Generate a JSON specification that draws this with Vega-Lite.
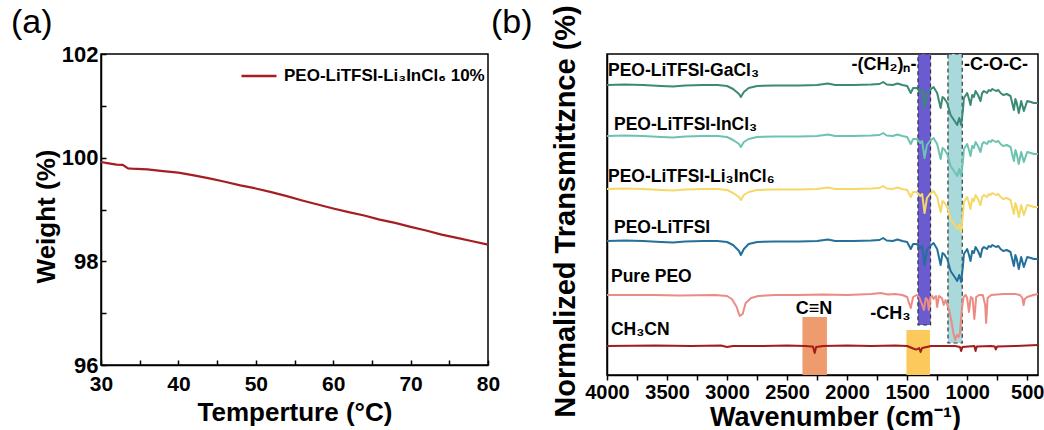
{
"$schema":"https://vega.github.io/schema/vega-lite/v6.json",
"padding":{"left":10,"top":3,"right":0,"bottom":0},
"background":"white",
"config":{"view":{"stroke":"black","strokeWidth":1.5},"font":"Liberation Sans","axis":{"grid":false,"domainColor":"black","domainWidth":1.5,"tickColor":"black","tickWidth":1.5,"labelColor":"black","titleColor":"black","labelFont":"Liberation Sans","titleFont":"Liberation Sans","labelFontWeight":"bold","titleFontWeight":"bold"}},
"datasets":{
"tga":[{"s":"PEO-LiTFSI-Li₃InCl₆ 10%","t":30,"w":99.916},{"s":"PEO-LiTFSI-Li₃InCl₆ 10%","t":31,"w":99.89},{"s":"PEO-LiTFSI-Li₃InCl₆ 10%","t":32,"w":99.865},{"s":"PEO-LiTFSI-Li₃InCl₆ 10%","t":32.8,"w":99.86},{"s":"PEO-LiTFSI-Li₃InCl₆ 10%","t":33.5,"w":99.794},{"s":"PEO-LiTFSI-Li₃InCl₆ 10%","t":34,"w":99.787},{"s":"PEO-LiTFSI-Li₃InCl₆ 10%","t":36,"w":99.774},{"s":"PEO-LiTFSI-Li₃InCl₆ 10%","t":38,"w":99.742},{"s":"PEO-LiTFSI-Li₃InCl₆ 10%","t":40,"w":99.71},{"s":"PEO-LiTFSI-Li₃InCl₆ 10%","t":42,"w":99.658},{"s":"PEO-LiTFSI-Li₃InCl₆ 10%","t":44,"w":99.6},{"s":"PEO-LiTFSI-Li₃InCl₆ 10%","t":46,"w":99.535},{"s":"PEO-LiTFSI-Li₃InCl₆ 10%","t":48,"w":99.465},{"s":"PEO-LiTFSI-Li₃InCl₆ 10%","t":50,"w":99.406},{"s":"PEO-LiTFSI-Li₃InCl₆ 10%","t":52,"w":99.335},{"s":"PEO-LiTFSI-Li₃InCl₆ 10%","t":54,"w":99.258},{"s":"PEO-LiTFSI-Li₃InCl₆ 10%","t":56,"w":99.174},{"s":"PEO-LiTFSI-Li₃InCl₆ 10%","t":58,"w":99.097},{"s":"PEO-LiTFSI-Li₃InCl₆ 10%","t":60,"w":99.019},{"s":"PEO-LiTFSI-Li₃InCl₆ 10%","t":62,"w":98.948},{"s":"PEO-LiTFSI-Li₃InCl₆ 10%","t":64,"w":98.884},{"s":"PEO-LiTFSI-Li₃InCl₆ 10%","t":66,"w":98.806},{"s":"PEO-LiTFSI-Li₃InCl₆ 10%","t":68,"w":98.742},{"s":"PEO-LiTFSI-Li₃InCl₆ 10%","t":70,"w":98.665},{"s":"PEO-LiTFSI-Li₃InCl₆ 10%","t":72,"w":98.594},{"s":"PEO-LiTFSI-Li₃InCl₆ 10%","t":74,"w":98.516},{"s":"PEO-LiTFSI-Li₃InCl₆ 10%","t":76,"w":98.452},{"s":"PEO-LiTFSI-Li₃InCl₆ 10%","t":78,"w":98.387},{"s":"PEO-LiTFSI-Li₃InCl₆ 10%","t":80,"w":98.323}],
"tags":[{"tag":"(a)","t":18.372,"w":102.926},{"tag":"(b)","t":80.388,"w":102.926}],
"bands":[{"b":"CH2","w":1410,"w2":1305,"v":50,"v2":321,"d":true},{"b":"COC","w":1160,"w2":1041,"v":32,"v2":321,"d":true},{"b":"CN","w":2372,"w2":2168,"v":0,"v2":58,"d":false},{"b":"CH3","w":1506,"w2":1310,"v":0,"v2":45,"d":false}],
"notes":[{"k":"trace","t":"PEO-LiTFSI-GaCl₃","w":3992,"v":304.5},{"k":"trace","t":"PEO-LiTFSI-InCl₃","w":3942,"v":250},{"k":"trace","t":"PEO-LiTFSI-Li₃InCl₆","w":3992,"v":198.5},{"k":"trace","t":"PEO-LiTFSI","w":3942,"v":147},{"k":"trace","t":"Pure PEO","w":3967,"v":98.5},{"k":"trace","t":"CH₃CN","w":3967,"v":45},{"k":"right","t":"-(CH₂)ₙ-","w":1422,"v":310},{"k":"left","t":"-C-O-C-","w":1026,"v":310},{"k":"center","t":"C≡N","w":2276,"v":66},{"k":"center","t":"-CH₃","w":1640,"v":61}],
"ftir":[
{"s":"GaCl3","w":4000,"v":290},{"s":"GaCl3","w":3850,"v":290.5},{"s":"GaCl3","w":3700,"v":290},{"s":"GaCl3","w":3550,"v":289},{"s":"GaCl3","w":3450,"v":288.5},{"s":"GaCl3","w":3350,"v":289.5},{"s":"GaCl3","w":3200,"v":290},{"s":"GaCl3","w":3080,"v":290},{"s":"GaCl3","w":3000,"v":289},{"s":"GaCl3","w":2950,"v":286},{"s":"GaCl3","w":2900,"v":281},{"s":"GaCl3","w":2885,"v":278},{"s":"GaCl3","w":2860,"v":283},{"s":"GaCl3","w":2820,"v":287},{"s":"GaCl3","w":2750,"v":289},{"s":"GaCl3","w":2600,"v":289.5},{"s":"GaCl3","w":2400,"v":289.5},{"s":"GaCl3","w":2250,"v":290},{"s":"GaCl3","w":2160,"v":291.5},{"s":"GaCl3","w":2100,"v":290},{"s":"GaCl3","w":1950,"v":290},{"s":"GaCl3","w":1800,"v":290.5},{"s":"GaCl3","w":1730,"v":291},{"s":"GaCl3","w":1700,"v":293},{"s":"GaCl3","w":1670,"v":290.5},{"s":"GaCl3","w":1620,"v":290},{"s":"GaCl3","w":1580,"v":291.5},{"s":"GaCl3","w":1540,"v":290},{"s":"GaCl3","w":1500,"v":289},{"s":"GaCl3","w":1470,"v":282},{"s":"GaCl3","w":1450,"v":287},{"s":"GaCl3","w":1420,"v":287},{"s":"GaCl3","w":1390,"v":283},{"s":"GaCl3","w":1375,"v":285},{"s":"GaCl3","w":1355,"v":268},{"s":"GaCl3","w":1335,"v":281},{"s":"GaCl3","w":1310,"v":285},{"s":"GaCl3","w":1280,"v":288},{"s":"GaCl3","w":1250,"v":282},{"s":"GaCl3","w":1221,"v":267},{"s":"GaCl3","w":1205,"v":278},{"s":"GaCl3","w":1193,"v":277},{"s":"GaCl3","w":1166,"v":272},{"s":"GaCl3","w":1138,"v":260},{"s":"GaCl3","w":1110,"v":255},{"s":"GaCl3","w":1083,"v":250},{"s":"GaCl3","w":1066,"v":257},{"s":"GaCl3","w":1050,"v":250},{"s":"GaCl3","w":1035,"v":265},{"s":"GaCl3","w":1027,"v":277},{"s":"GaCl3","w":1000,"v":282},{"s":"GaCl3","w":985,"v":276},{"s":"GaCl3","w":972,"v":270},{"s":"GaCl3","w":958,"v":280},{"s":"GaCl3","w":944,"v":278},{"s":"GaCl3","w":930,"v":284},{"s":"GaCl3","w":910,"v":280},{"s":"GaCl3","w":889,"v":274},{"s":"GaCl3","w":875,"v":282},{"s":"GaCl3","w":860,"v":284},{"s":"GaCl3","w":835,"v":282},{"s":"GaCl3","w":820,"v":285},{"s":"GaCl3","w":805,"v":284},{"s":"GaCl3","w":790,"v":286},{"s":"GaCl3","w":760,"v":284},{"s":"GaCl3","w":740,"v":285},{"s":"GaCl3","w":722,"v":282},{"s":"GaCl3","w":700,"v":280},{"s":"GaCl3","w":670,"v":281},{"s":"GaCl3","w":639,"v":279},{"s":"GaCl3","w":611,"v":265},{"s":"GaCl3","w":598,"v":276},{"s":"GaCl3","w":589,"v":273},{"s":"GaCl3","w":570,"v":262},{"s":"GaCl3","w":550,"v":274},{"s":"GaCl3","w":528,"v":264},{"s":"GaCl3","w":500,"v":274},{"s":"GaCl3","w":470,"v":273},{"s":"GaCl3","w":445,"v":272},{"s":"GaCl3","w":410,"v":272},
{"s":"InCl3","w":4000,"v":239},{"s":"InCl3","w":3850,"v":239.5},{"s":"InCl3","w":3700,"v":239},{"s":"InCl3","w":3550,"v":238},{"s":"InCl3","w":3450,"v":237.5},{"s":"InCl3","w":3350,"v":238.5},{"s":"InCl3","w":3200,"v":239},{"s":"InCl3","w":3080,"v":239},{"s":"InCl3","w":3000,"v":238},{"s":"InCl3","w":2950,"v":235},{"s":"InCl3","w":2900,"v":231},{"s":"InCl3","w":2885,"v":228},{"s":"InCl3","w":2860,"v":233},{"s":"InCl3","w":2820,"v":236},{"s":"InCl3","w":2750,"v":238},{"s":"InCl3","w":2600,"v":238.5},{"s":"InCl3","w":2400,"v":238.5},{"s":"InCl3","w":2250,"v":239},{"s":"InCl3","w":2160,"v":240.5},{"s":"InCl3","w":2100,"v":239},{"s":"InCl3","w":1950,"v":239},{"s":"InCl3","w":1800,"v":239.5},{"s":"InCl3","w":1730,"v":240},{"s":"InCl3","w":1700,"v":242},{"s":"InCl3","w":1670,"v":239.5},{"s":"InCl3","w":1620,"v":239},{"s":"InCl3","w":1580,"v":240.5},{"s":"InCl3","w":1540,"v":239},{"s":"InCl3","w":1500,"v":238},{"s":"InCl3","w":1470,"v":231},{"s":"InCl3","w":1450,"v":236},{"s":"InCl3","w":1420,"v":236},{"s":"InCl3","w":1390,"v":232},{"s":"InCl3","w":1375,"v":234},{"s":"InCl3","w":1355,"v":217},{"s":"InCl3","w":1335,"v":230},{"s":"InCl3","w":1310,"v":234},{"s":"InCl3","w":1280,"v":237},{"s":"InCl3","w":1250,"v":231},{"s":"InCl3","w":1221,"v":216},{"s":"InCl3","w":1205,"v":227},{"s":"InCl3","w":1193,"v":226},{"s":"InCl3","w":1166,"v":221},{"s":"InCl3","w":1138,"v":209},{"s":"InCl3","w":1110,"v":204},{"s":"InCl3","w":1083,"v":199},{"s":"InCl3","w":1066,"v":206},{"s":"InCl3","w":1050,"v":199},{"s":"InCl3","w":1035,"v":214},{"s":"InCl3","w":1027,"v":226},{"s":"InCl3","w":1000,"v":231},{"s":"InCl3","w":985,"v":225},{"s":"InCl3","w":972,"v":219},{"s":"InCl3","w":958,"v":229},{"s":"InCl3","w":944,"v":227},{"s":"InCl3","w":930,"v":233},{"s":"InCl3","w":910,"v":229},{"s":"InCl3","w":889,"v":223},{"s":"InCl3","w":875,"v":231},{"s":"InCl3","w":860,"v":233},{"s":"InCl3","w":835,"v":231},{"s":"InCl3","w":820,"v":234},{"s":"InCl3","w":805,"v":233},{"s":"InCl3","w":790,"v":235},{"s":"InCl3","w":760,"v":233},{"s":"InCl3","w":740,"v":234},{"s":"InCl3","w":722,"v":231},{"s":"InCl3","w":700,"v":229},{"s":"InCl3","w":670,"v":230},{"s":"InCl3","w":639,"v":228},{"s":"InCl3","w":611,"v":214},{"s":"InCl3","w":598,"v":225},{"s":"InCl3","w":589,"v":222},{"s":"InCl3","w":570,"v":211},{"s":"InCl3","w":550,"v":223},{"s":"InCl3","w":528,"v":213},{"s":"InCl3","w":500,"v":223},{"s":"InCl3","w":470,"v":222},{"s":"InCl3","w":445,"v":221},{"s":"InCl3","w":410,"v":221},
{"s":"Li3InCl6","w":4000,"v":186},{"s":"Li3InCl6","w":3850,"v":186.5},{"s":"Li3InCl6","w":3700,"v":186},{"s":"Li3InCl6","w":3550,"v":185},{"s":"Li3InCl6","w":3450,"v":184.5},{"s":"Li3InCl6","w":3350,"v":185.5},{"s":"Li3InCl6","w":3200,"v":186},{"s":"Li3InCl6","w":3080,"v":186},{"s":"Li3InCl6","w":3000,"v":185},{"s":"Li3InCl6","w":2950,"v":182},{"s":"Li3InCl6","w":2900,"v":178},{"s":"Li3InCl6","w":2885,"v":175},{"s":"Li3InCl6","w":2860,"v":180},{"s":"Li3InCl6","w":2820,"v":183},{"s":"Li3InCl6","w":2750,"v":185},{"s":"Li3InCl6","w":2600,"v":185.5},{"s":"Li3InCl6","w":2400,"v":185.5},{"s":"Li3InCl6","w":2250,"v":186},{"s":"Li3InCl6","w":2160,"v":187.5},{"s":"Li3InCl6","w":2100,"v":186},{"s":"Li3InCl6","w":1950,"v":186},{"s":"Li3InCl6","w":1800,"v":186.5},{"s":"Li3InCl6","w":1730,"v":187},{"s":"Li3InCl6","w":1700,"v":189},{"s":"Li3InCl6","w":1670,"v":186.5},{"s":"Li3InCl6","w":1620,"v":186},{"s":"Li3InCl6","w":1580,"v":187.5},{"s":"Li3InCl6","w":1540,"v":186},{"s":"Li3InCl6","w":1500,"v":185},{"s":"Li3InCl6","w":1470,"v":178},{"s":"Li3InCl6","w":1450,"v":183},{"s":"Li3InCl6","w":1420,"v":183},{"s":"Li3InCl6","w":1390,"v":179},{"s":"Li3InCl6","w":1375,"v":181},{"s":"Li3InCl6","w":1355,"v":162},{"s":"Li3InCl6","w":1335,"v":177},{"s":"Li3InCl6","w":1310,"v":181},{"s":"Li3InCl6","w":1280,"v":184},{"s":"Li3InCl6","w":1250,"v":178},{"s":"Li3InCl6","w":1221,"v":163},{"s":"Li3InCl6","w":1205,"v":174},{"s":"Li3InCl6","w":1193,"v":173},{"s":"Li3InCl6","w":1166,"v":168},{"s":"Li3InCl6","w":1138,"v":156},{"s":"Li3InCl6","w":1110,"v":151},{"s":"Li3InCl6","w":1083,"v":146},{"s":"Li3InCl6","w":1066,"v":150},{"s":"Li3InCl6","w":1050,"v":143},{"s":"Li3InCl6","w":1035,"v":161},{"s":"Li3InCl6","w":1027,"v":173},{"s":"Li3InCl6","w":1000,"v":178},{"s":"Li3InCl6","w":985,"v":172},{"s":"Li3InCl6","w":972,"v":166},{"s":"Li3InCl6","w":958,"v":176},{"s":"Li3InCl6","w":944,"v":174},{"s":"Li3InCl6","w":930,"v":180},{"s":"Li3InCl6","w":910,"v":176},{"s":"Li3InCl6","w":889,"v":170},{"s":"Li3InCl6","w":875,"v":178},{"s":"Li3InCl6","w":860,"v":180},{"s":"Li3InCl6","w":835,"v":178},{"s":"Li3InCl6","w":820,"v":181},{"s":"Li3InCl6","w":805,"v":180},{"s":"Li3InCl6","w":790,"v":182},{"s":"Li3InCl6","w":760,"v":180},{"s":"Li3InCl6","w":740,"v":181},{"s":"Li3InCl6","w":722,"v":178},{"s":"Li3InCl6","w":700,"v":176},{"s":"Li3InCl6","w":670,"v":177},{"s":"Li3InCl6","w":639,"v":175},{"s":"Li3InCl6","w":611,"v":161},{"s":"Li3InCl6","w":598,"v":172},{"s":"Li3InCl6","w":589,"v":169},{"s":"Li3InCl6","w":570,"v":158},{"s":"Li3InCl6","w":550,"v":170},{"s":"Li3InCl6","w":528,"v":160},{"s":"Li3InCl6","w":500,"v":170},{"s":"Li3InCl6","w":470,"v":169},{"s":"Li3InCl6","w":445,"v":168},{"s":"Li3InCl6","w":410,"v":168},
{"s":"LiTFSI","w":4000,"v":134},{"s":"LiTFSI","w":3850,"v":134.5},{"s":"LiTFSI","w":3700,"v":134},{"s":"LiTFSI","w":3550,"v":133},{"s":"LiTFSI","w":3450,"v":132.5},{"s":"LiTFSI","w":3350,"v":133.5},{"s":"LiTFSI","w":3200,"v":134},{"s":"LiTFSI","w":3080,"v":134},{"s":"LiTFSI","w":3000,"v":133},{"s":"LiTFSI","w":2950,"v":130},{"s":"LiTFSI","w":2900,"v":124},{"s":"LiTFSI","w":2885,"v":120},{"s":"LiTFSI","w":2860,"v":126},{"s":"LiTFSI","w":2820,"v":131},{"s":"LiTFSI","w":2750,"v":133},{"s":"LiTFSI","w":2600,"v":133.5},{"s":"LiTFSI","w":2400,"v":133.5},{"s":"LiTFSI","w":2250,"v":134},{"s":"LiTFSI","w":2160,"v":135.5},{"s":"LiTFSI","w":2100,"v":134},{"s":"LiTFSI","w":1950,"v":134},{"s":"LiTFSI","w":1800,"v":134.5},{"s":"LiTFSI","w":1730,"v":135},{"s":"LiTFSI","w":1700,"v":137},{"s":"LiTFSI","w":1670,"v":134.5},{"s":"LiTFSI","w":1620,"v":134},{"s":"LiTFSI","w":1580,"v":135.5},{"s":"LiTFSI","w":1540,"v":134},{"s":"LiTFSI","w":1500,"v":133},{"s":"LiTFSI","w":1470,"v":126},{"s":"LiTFSI","w":1450,"v":131},{"s":"LiTFSI","w":1420,"v":131},{"s":"LiTFSI","w":1390,"v":127},{"s":"LiTFSI","w":1375,"v":129},{"s":"LiTFSI","w":1355,"v":110},{"s":"LiTFSI","w":1335,"v":125},{"s":"LiTFSI","w":1310,"v":129},{"s":"LiTFSI","w":1280,"v":132},{"s":"LiTFSI","w":1250,"v":126},{"s":"LiTFSI","w":1221,"v":110},{"s":"LiTFSI","w":1205,"v":122},{"s":"LiTFSI","w":1193,"v":121},{"s":"LiTFSI","w":1166,"v":116},{"s":"LiTFSI","w":1138,"v":104},{"s":"LiTFSI","w":1110,"v":99},{"s":"LiTFSI","w":1083,"v":94},{"s":"LiTFSI","w":1066,"v":100},{"s":"LiTFSI","w":1050,"v":93},{"s":"LiTFSI","w":1035,"v":109},{"s":"LiTFSI","w":1027,"v":121},{"s":"LiTFSI","w":1000,"v":126},{"s":"LiTFSI","w":985,"v":120},{"s":"LiTFSI","w":972,"v":114},{"s":"LiTFSI","w":958,"v":124},{"s":"LiTFSI","w":944,"v":122},{"s":"LiTFSI","w":930,"v":128},{"s":"LiTFSI","w":910,"v":124},{"s":"LiTFSI","w":889,"v":118},{"s":"LiTFSI","w":875,"v":126},{"s":"LiTFSI","w":860,"v":128},{"s":"LiTFSI","w":835,"v":126},{"s":"LiTFSI","w":820,"v":129},{"s":"LiTFSI","w":805,"v":128},{"s":"LiTFSI","w":790,"v":130},{"s":"LiTFSI","w":760,"v":128},{"s":"LiTFSI","w":740,"v":129},{"s":"LiTFSI","w":722,"v":126},{"s":"LiTFSI","w":700,"v":124},{"s":"LiTFSI","w":670,"v":125},{"s":"LiTFSI","w":639,"v":123},{"s":"LiTFSI","w":611,"v":109},{"s":"LiTFSI","w":598,"v":120},{"s":"LiTFSI","w":589,"v":117},{"s":"LiTFSI","w":570,"v":106},{"s":"LiTFSI","w":550,"v":118},{"s":"LiTFSI","w":528,"v":108},{"s":"LiTFSI","w":500,"v":118},{"s":"LiTFSI","w":470,"v":117},{"s":"LiTFSI","w":445,"v":116},{"s":"LiTFSI","w":410,"v":116},
{"s":"PEO","w":4000,"v":80},{"s":"PEO","w":3600,"v":80},{"s":"PEO","w":3400,"v":79.5},{"s":"PEO","w":3100,"v":80},{"s":"PEO","w":3000,"v":79},{"s":"PEO","w":2960,"v":76},{"s":"PEO","w":2920,"v":68},{"s":"PEO","w":2895,"v":59},{"s":"PEO","w":2870,"v":61},{"s":"PEO","w":2845,"v":72},{"s":"PEO","w":2800,"v":77},{"s":"PEO","w":2740,"v":79},{"s":"PEO","w":2600,"v":80},{"s":"PEO","w":2400,"v":80},{"s":"PEO","w":2200,"v":80.5},{"s":"PEO","w":2000,"v":80},{"s":"PEO","w":1800,"v":81},{"s":"PEO","w":1720,"v":82},{"s":"PEO","w":1660,"v":80.5},{"s":"PEO","w":1600,"v":81},{"s":"PEO","w":1540,"v":80},{"s":"PEO","w":1500,"v":78},{"s":"PEO","w":1470,"v":67},{"s":"PEO","w":1450,"v":78},{"s":"PEO","w":1420,"v":80},{"s":"PEO","w":1400,"v":78},{"s":"PEO","w":1380,"v":72},{"s":"PEO","w":1360,"v":65},{"s":"PEO","w":1345,"v":77},{"s":"PEO","w":1330,"v":75},{"s":"PEO","w":1320,"v":65},{"s":"PEO","w":1305,"v":78},{"s":"PEO","w":1290,"v":79},{"s":"PEO","w":1280,"v":76},{"s":"PEO","w":1260,"v":79},{"s":"PEO","w":1250,"v":68},{"s":"PEO","w":1235,"v":79},{"s":"PEO","w":1210,"v":77},{"s":"PEO","w":1195,"v":70},{"s":"PEO","w":1180,"v":75},{"s":"PEO","w":1150,"v":65},{"s":"PEO","w":1130,"v":53},{"s":"PEO","w":1115,"v":42},{"s":"PEO","w":1100,"v":35},{"s":"PEO","w":1085,"v":40},{"s":"PEO","w":1070,"v":38},{"s":"PEO","w":1060,"v":42},{"s":"PEO","w":1045,"v":65},{"s":"PEO","w":1030,"v":78},{"s":"PEO","w":1013,"v":80},{"s":"PEO","w":1000,"v":77},{"s":"PEO","w":985,"v":63},{"s":"PEO","w":970,"v":78},{"s":"PEO","w":955,"v":77},{"s":"PEO","w":940,"v":56},{"s":"PEO","w":925,"v":78},{"s":"PEO","w":900,"v":80},{"s":"PEO","w":870,"v":80},{"s":"PEO","w":850,"v":70},{"s":"PEO","w":842,"v":52},{"s":"PEO","w":830,"v":77},{"s":"PEO","w":800,"v":80},{"s":"PEO","w":700,"v":81},{"s":"PEO","w":600,"v":81},{"s":"PEO","w":560,"v":80},{"s":"PEO","w":540,"v":77},{"s":"PEO","w":530,"v":70},{"s":"PEO","w":520,"v":76},{"s":"PEO","w":500,"v":78},{"s":"PEO","w":450,"v":80},{"s":"PEO","w":410,"v":81},
{"s":"CH3CN","w":4000,"v":29},{"s":"CH3CN","w":3600,"v":29.5},{"s":"CH3CN","w":3300,"v":29},{"s":"CH3CN","w":3050,"v":29.5},{"s":"CH3CN","w":3000,"v":28},{"s":"CH3CN","w":2950,"v":29},{"s":"CH3CN","w":2700,"v":29},{"s":"CH3CN","w":2500,"v":29.5},{"s":"CH3CN","w":2350,"v":29},{"s":"CH3CN","w":2300,"v":28.5},{"s":"CH3CN","w":2285,"v":28.5},{"s":"CH3CN","w":2270,"v":22},{"s":"CH3CN","w":2258,"v":28},{"s":"CH3CN","w":2200,"v":29},{"s":"CH3CN","w":2000,"v":29.5},{"s":"CH3CN","w":1800,"v":29},{"s":"CH3CN","w":1600,"v":29.5},{"s":"CH3CN","w":1500,"v":29},{"s":"CH3CN","w":1460,"v":27},{"s":"CH3CN","w":1440,"v":26},{"s":"CH3CN","w":1420,"v":25.5},{"s":"CH3CN","w":1400,"v":27},{"s":"CH3CN","w":1388,"v":23},{"s":"CH3CN","w":1375,"v":27},{"s":"CH3CN","w":1300,"v":29},{"s":"CH3CN","w":1200,"v":29},{"s":"CH3CN","w":1100,"v":29},{"s":"CH3CN","w":1060,"v":28},{"s":"CH3CN","w":1050,"v":24},{"s":"CH3CN","w":1040,"v":28},{"s":"CH3CN","w":940,"v":29},{"s":"CH3CN","w":930,"v":24},{"s":"CH3CN","w":920,"v":28.5},{"s":"CH3CN","w":800,"v":29},{"s":"CH3CN","w":770,"v":28.5},{"s":"CH3CN","w":762,"v":25.5},{"s":"CH3CN","w":750,"v":28.5},{"s":"CH3CN","w":600,"v":29},{"s":"CH3CN","w":410,"v":30}
]},
"hconcat":[
{"width":387,"height":311,
 "encoding":{
  "x":{"field":"t","type":"quantitative","scale":{"domain":[30,80],"nice":false,"zero":false},
    "axis":{"title":"Temperture (°C)","titleFontSize":26,"titlePadding":5,"labelFontSize":21,"values":[30,35,40,45,50,55,60,65,70,75,80],"labelExpr":"datum.value % 10 === 0 ? datum.label : ''","tickSize":-5,"labelPadding":13,"labelFlush":false,"labelOverlap":false}},
  "y":{"field":"w","type":"quantitative","scale":{"domain":[96,102],"nice":false,"zero":false},
    "axis":{"title":"Weight (%)","titleFontSize":26,"titlePadding":2,"titleY":162,"labelFontSize":22,"values":[96,97,98,99,100,101,102],"labelExpr":"datum.value % 2 === 0 ? datum.label : ''","tickSize":-5,"labelPadding":8,"labelFlush":false,"labelOverlap":false}}},
 "layer":[
  {"data":{"name":"tga"},"mark":{"type":"line","strokeWidth":2.2},
   "encoding":{
    "color":{"field":"s","type":"nominal","scale":{"range":["#A51E22"]},
      "legend":{"orient":"top-right","title":null,"symbolType":"stroke","symbolSize":1225,"symbolStrokeWidth":2.5,"labelFont":"Liberation Sans","labelFontSize":17,"labelFontWeight":"bold","labelColor":"black","labelLimit":400,"padding":0,"offset":3,"labelOffset":6}}}},
  {"data":{"name":"tags"},"mark":{"type":"text","align":"left","baseline":"top","fontSize":34,"font":"Liberation Sans","fontWeight":"normal","color":"black"},
   "encoding":{"text":{"field":"tag"}}}
 ]},
{"width":431,"height":321,
 "encoding":{
  "x":{"field":"w","type":"quantitative","scale":{"domain":[410,4000],"reverse":true,"nice":false,"zero":false},
    "axis":{"title":"Wavenumber (cm⁻¹)","titleFontSize":27,"titlePadding":2,"titleX":228,"labelFontSize":20,"values":[4000,3750,3500,3250,3000,2750,2500,2250,2000,1750,1500,1250,1000,750,500],"labelExpr":"datum.value % 500 === 0 ? datum.label : ''","format":"d","tickSize":5,"labelPadding":2,"labelFlush":false,"labelOverlap":false}},
  "y":{"field":"v","type":"quantitative","scale":{"domain":[0,321],"nice":false,"zero":false},
    "axis":{"title":"Normalized Transmittznce (%)","titleFontSize":29,"titlePadding":27,"titleY":157,"ticks":false,"labels":false}}},
 "layer":[
  {"data":{"name":"bands"},"mark":{"type":"rect"},
   "encoding":{"x2":{"field":"w2"},"y2":{"field":"v2"},
    "fill":{"field":"b","type":"nominal","scale":{"domain":["CH2","COC","CN","CH3"],"range":["#6A5BD0","#A9D9DB","#EE9B6E","#FCC95C"]},"legend":null}}},
  {"data":{"name":"bands"},"transform":[{"filter":"datum.d"}],"mark":{"type":"rect","filled":false,"stroke":"#333333","strokeWidth":1.2,"strokeDash":[4,3]},
   "encoding":{"x2":{"field":"w2"},"y2":{"field":"v2"}}},
  {"data":{"name":"ftir"},"mark":{"type":"line","strokeWidth":2,"strokeJoin":"round"},
   "encoding":{
    "stroke":{"field":"s","type":"nominal","scale":{"domain":["GaCl3","InCl3","Li3InCl6","LiTFSI","PEO","CH3CN"],"range":["#3A8A76","#6CC3B0","#F5D866","#23709A","#EC8A84","#A31C1C"]},"legend":null}}},
  {"data":{"name":"notes"},"transform":[{"filter":"datum.k === 'trace'"}],"mark":{"type":"text","align":"left","baseline":"middle","fontSize":17.5,"fontWeight":"bold","font":"Liberation Sans","color":"black"},
   "encoding":{"text":{"field":"t"}}},
  {"data":{"name":"notes"},"transform":[{"filter":"datum.k === 'left'"}],"mark":{"type":"text","align":"left","baseline":"middle","fontSize":18,"fontWeight":"bold","font":"Liberation Sans","color":"black"},
   "encoding":{"text":{"field":"t"}}},
  {"data":{"name":"notes"},"transform":[{"filter":"datum.k === 'right'"}],"mark":{"type":"text","align":"right","baseline":"middle","fontSize":18,"fontWeight":"bold","font":"Liberation Sans","color":"black"},
   "encoding":{"text":{"field":"t"}}},
  {"data":{"name":"notes"},"transform":[{"filter":"datum.k === 'center'"}],"mark":{"type":"text","align":"center","baseline":"middle","fontSize":18,"fontWeight":"bold","font":"Liberation Sans","color":"black"},
   "encoding":{"text":{"field":"t"}}}
 ]}
],
"resolve":{"scale":{"color":"independent"},"legend":{"color":"independent"}},
"spacing":119,
"bounds":"flush"
}
